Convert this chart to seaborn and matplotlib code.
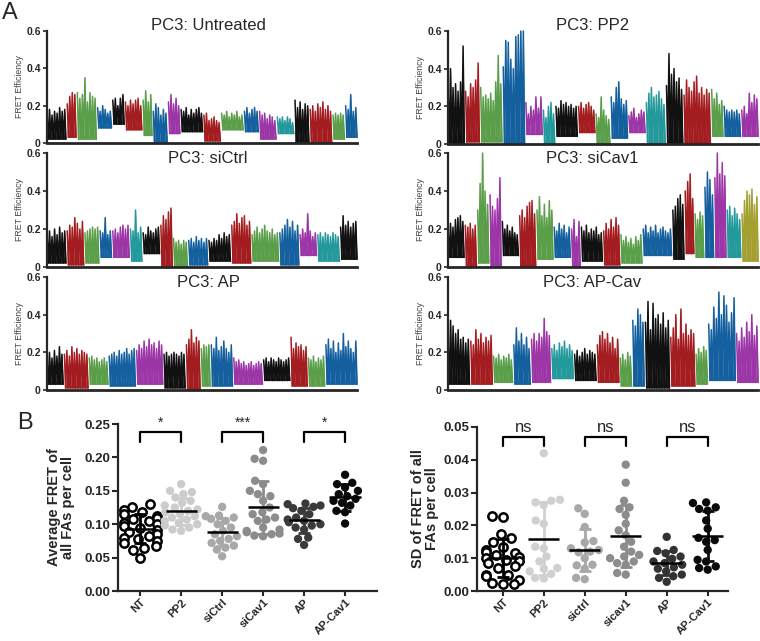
import numpy as np
import pandas as pd
import seaborn as sns
import matplotlib.pyplot as plt

# =====================================
# PANEL A DATA (per-cell FRET traces)
# colour key, per-cell baseline and peak values
# =====================================

untreated_colors = ['k', 'r', 'g', 'b', 'k', 'r', 'g', 'b', 'm', 'k', 'r', 'g', 'b', 'm', 'c', 'k', 'r', 'g', 'b']
untreated_lows = [.02, .03, .02, .08, .10, .07, .04, .0, .05, .06, .01, .07, .06, .02, .05, .0, .0, .02, .03]
untreated_tops = [
    [.16, .18, .15, .17, .16, .19, .17, .18],
    [.21, .25, .27, .26],
    [.27, .24, .26, .35, .22, .27, .25, .24],
    [.19, .17, .20, .18, .16, .17],
    [.23, .24, .20, .24, .26],
    [.22, .20, .23, .21, .23, .24, .20],
    [.23, .28, .22, .26],
    [.17, .21, .19, .15, .18, .16],
    [.22, .26, .21, .24, .20],
    [.18, .17, .19, .15, .18, .16, .18, .19, .16],
    [.15, .16, .12, .13, .14, .12, .11],
    [.16, .15, .17, .14, .16, .15, .17, .14, .15],
    [.17, .19, .16, .18, .19, .17],
    [.17, .15, .16, .13, .15, .14, .12],
    [.14, .13, .14, .12, .14, .13, .11],
    [.23, .19, .22, .18, .21, .20],
    [.18, .20, .17, .21, .19, .22, .18, .20, .17],
    [.15, .16, .15, .16, .15],
    [.20, .18, .26, .17, .19],
]

sictrl_colors = ['k', 'r', 'g', 'b', 'm', 'c', 'k', 'r', 'g', 'b', 'k', 'r', 'g', 'b', 'm', 'c', 'k']
sictrl_lows = [.02, .01, .02, .05, .05, .03, .07, .0, .0, .01, .03, .02, .03, .01, .06, .03, .04]
sictrl_tops = [
    [.18, .19, .16, .20, .17, .21, .18, .19],
    [.19, .22, .21, .26, .23, .20, .24],
    [.18, .19, .20, .21, .20, .21],
    [.19, .18, .26, .17, .19],
    [.19, .20, .18, .21, .22, .20, .22],
    [.20, .19, .30, .18, .21],
    [.18, .17, .21, .19, .18, .20, .21],
    [.22, .27, .25, .29, .31],
    [.15, .13, .14, .12, .14, .13],
    [.14, .15, .13, .16, .14, .15, .13, .15],
    [.14, .13, .15, .14, .17, .15, .18, .16, .17],
    [.22, .24, .28, .23, .26, .27, .22, .24],
    [.17, .19, .21, .18, .20, .22, .19, .18, .20, .17, .18],
    [.18, .20, .22, .25, .21, .24, .19, .22],
    [.17, .20, .18, .28, .19, .16, .18],
    [.17, .18, .16, .18, .17, .16, .18, .17, .16],
    [.21, .27, .22, .24, .21, .23, .24],
]

ap_colors = ['k', 'r', 'g', 'b', 'm', 'k', 'r', 'g', 'b', 'm', 'k', 'r', 'g', 'b']
ap_lows = [.03, .01, .03, .02, .03, .01, .0, .02, .02, .03, .05, .02, .02, .03]
ap_tops = [
    [.16, .20, .17, .21, .18, .23, .19],
    [.19, .21, .18, .23, .20, .22, .19, .21, .20, .19],
    [.17, .18, .16, .17, .15, .16, .17, .15],
    [.18, .19, .20, .18, .21, .19, .20, .22, .19, .21, .22],
    [.21, .24, .22, .26, .23, .27, .24, .25, .22, .26, .24],
    [.19, .20, .18, .19, .20, .19, .18, .20, .19],
    [.24, .27, .32, .25, .28, .26],
    [.22, .24, .23, .24],
    [.24, .22, .28, .21, .23, .26, .22, .20, .24],
    [.17, .15, .16, .14, .15, .13, .14, .15, .13, .14, .15, .14],
    [.16, .17, .15, .17, .16, .15, .17, .16, .15, .16, .17],
    [.28, .22, .25, .23, .24, .21, .23],
    [.17, .16, .18, .15, .17, .16, .18],
    [.24, .27, .22, .26, .20, .25, .21, .30, .23, .26, .22, .20, .26],
]

pp2_colors = ['k', 'r', 'g', 'b', 'm', 'c', 'k', 'r', 'g', 'b', 'm', 'c', 'k', 'r', 'g', 'b', 'm']
pp2_lows = [.0, .01, .01, .0, .05, .0, .04, .06, .0, .03, .06, .0, .0, .0, .04, .04, .04]
pp2_tops = [
    [.31, .40, .30, .32, .28, .33, .52],
    [.28, .25, .32, .30, .34, .43],
    [.30, .25, .26, .24, .27, .23, .33, .47, .32],
    [.41, .55, .54, .45, .40, .57, .58, .60, .60],
    [.22, .16, .20, .18, .25, .19, .25],
    [.18, .14, .20, .22, .16],
    [.20, .19, .23, .21, .22, .20, .21, .19, .20],
    [.20, .22, .19, .21, .22, .20, .18],
    [.16, .14, .25, .18, .15, .13],
    [.25, .22, .30, .33, .24, .21, .23],
    [.15, .17, .19, .14, .16, .18, .17],
    [.22, .27, .30, .25, .26, .28, .24, .21],
    [.31, .48, .37, .40, .33, .35, .29],
    [.26, .34, .30, .28, .33, .36, .27, .30, .26, .29, .27],
    [.29, .24, .27, .21, .23],
    [.20, .18, .17, .18, .17, .18, .16],
    [.18, .20, .16, .27, .22, .26, .24],
]

sicav1_colors = ['k', 'r', 'g', 'm', 'k', 'r', 'g', 'b', 'm', 'k', 'r', 'g', 'b', 'k', 'r', 'g', 'b', 'm', 'c', 'o']
sicav1_lows = [.05, .0, .02, .0, .06, .0, .04, .05, .0, .03, .01, .02, .06, .04, .07, .05, .05, .05, .05, .03]
sicav1_tops = [
    [.20, .23, .21, .25, .26, .27, .24],
    [.22, .21, .23, .20, .22],
    [.30, .44, .60, .40, .33],
    [.38, .32, .30, .36, .47],
    [.24, .20, .22, .19, .21, .18, .17],
    [.27, .30, .26, .32, .34, .35, .28],
    [.30, .37, .27, .33, .26, .35, .30],
    [.21, .19, .23, .20, .22, .18, .21],
    [.20, .25, .16, .24],
    [.21, .19, .22, .18, .20, .19, .21, .17, .18],
    [.19, .23, .20, .25, .21, .26, .22],
    [.17, .14, .16, .13, .15, .12, .16, .14, .17],
    [.20, .22, .18, .21, .19, .22, .18, .20, .21, .19, .18, .20],
    [.30, .32, .36, .38, .33],
    [.40, .45, .49, .36],
    [.28, .25, .29, .27],
    [.42, .50, .46, .38],
    [.47, .60, .49, .55, .48],
    [.30, .32, .27, .31, .28, .25],
    [.28, .35, .40, .38, .41, .33, .37],
]

apcav_colors = ['k', 'r', 'g', 'b', 'm', 'c', 'k', 'r', 'g', 'b', 'k', 'r', 'g', 'b', 'm']
apcav_lows = [.03, .03, .04, .03, .04, .06, .05, .04, .02, .02, .01, .02, .03, .05, .04]
apcav_tops = [
    [.27, .37, .34, .30, .32, .27, .28, .25, .27],
    [.26, .24, .32, .27, .30, .25, .28, .26, .29],
    [.18, .17, .19, .16, .18, .17, .19, .16],
    [.24, .33, .26, .30, .24, .28, .22],
    [.27, .30, .26, .30, .28, .38, .31, .29],
    [.22, .24, .21, .25, .23, .26, .22, .24, .21],
    [.19, .21, .18, .20, .22, .19, .21, .20, .19],
    [.24, .29, .31, .27, .30, .25, .28, .22, .27],
    [.17, .19, .16, .20, .18],
    [.37, .34, .43, .40, .36],
    [.36, .47, .32, .46, .38, .40, .35, .41, .33, .37],
    [.28, .33, .40, .27, .43, .30, .35, .29, .32, .30],
    [.19, .22, .20, .23, .21],
    [.35, .32, .44, .38, .52, .40, .50, .45, .36, .41, .49],
    [.30, .26, .33, .28, .36, .31, .40, .29, .34],
]

# =====================================
# PANEL B DATA (per-cell summaries)
# =====================================

avg_groups = ['NT', 'PP2', 'siCtrl', 'siCav1', 'AP', 'AP-Cav1']
avg_nt = [0.130, 0.126, 0.122, 0.118, 0.115, 0.112, 0.110, 0.108, 0.105, 0.102, 0.100, 0.098, 0.095,
          0.092, 0.088, 0.085, 0.082, 0.080, 0.078, 0.075, 0.072, 0.068, 0.065, 0.062, 0.050]
avg_pp2 = [0.160, 0.150, 0.148, 0.145, 0.140, 0.135, 0.132, 0.128, 0.125, 0.122, 0.120, 0.118,
           0.115, 0.112, 0.110, 0.107, 0.105, 0.102, 0.100, 0.098, 0.095, 0.092, 0.090]
avg_sictrl = [0.126, 0.113, 0.112, 0.110, 0.108, 0.105, 0.100, 0.095, 0.090, 0.085, 0.082, 0.078,
              0.075, 0.072, 0.068, 0.065, 0.062, 0.052]
avg_sicav1 = [0.211, 0.198, 0.195, 0.165, 0.160, 0.150, 0.145, 0.142, 0.135, 0.125, 0.118, 0.115,
              0.110, 0.107, 0.105, 0.095, 0.092, 0.090, 0.088, 0.086, 0.085, 0.083, 0.082]
avg_ap = [0.131, 0.130, 0.128, 0.126, 0.124, 0.120, 0.115, 0.110, 0.107, 0.105, 0.103, 0.100,
          0.098, 0.095, 0.092, 0.080, 0.078, 0.069]
avg_apcav1 = [0.174, 0.162, 0.160, 0.155, 0.150, 0.145, 0.142, 0.138, 0.135, 0.132, 0.128, 0.120,
              0.118, 0.101]

sd_groups = ['NT', 'PP2', 'sictrl', 'sicav1', 'AP', 'AP-Cav1']
sd_nt = [0.0230, 0.0225, 0.0175, 0.0160, 0.0150, 0.0135, 0.0125, 0.0120, 0.0115, 0.0110, 0.0105,
         0.0100, 0.0095, 0.0090, 0.0085, 0.0075, 0.0070, 0.0050, 0.0048, 0.0045, 0.0035, 0.0025,
         0.0022, 0.0020]
sd_pp2 = [0.0420, 0.0278, 0.0275, 0.0270, 0.0262, 0.0215, 0.0205, 0.0135, 0.0130, 0.0105, 0.0090,
          0.0070, 0.0068, 0.0060, 0.0052, 0.0040, 0.0038]
sd_sictrl = [0.0252, 0.0235, 0.0195, 0.0152, 0.0148, 0.0130, 0.0125, 0.0120, 0.0118, 0.0100,
             0.0080, 0.0078, 0.0068, 0.0040, 0.0036]
sd_sicav1 = [0.0385, 0.0330, 0.0275, 0.0255, 0.0250, 0.0232, 0.0205, 0.0185, 0.0170, 0.0150,
             0.0135, 0.0120, 0.0110, 0.0105, 0.0100, 0.0090, 0.0085, 0.0080, 0.0055, 0.0050]
sd_ap = [0.0165, 0.0125, 0.0122, 0.0115, 0.0105, 0.0098, 0.0090, 0.0085, 0.0080, 0.0072, 0.0068,
         0.0060, 0.0050, 0.0045, 0.0040, 0.0028]
sd_apcav1 = [0.0270, 0.0268, 0.0255, 0.0250, 0.0245, 0.0215, 0.0190, 0.0162, 0.0155, 0.0150,
             0.0125, 0.0095, 0.0090, 0.0075, 0.0070, 0.0065]

avg_sig = ['*', '***', '*']
sd_sig = ['ns', 'ns', 'ns']

# =====================================
# STYLE
# =====================================

sns.set_style("ticks")
plt.rcParams['font.family'] = ['Liberation Sans', 'DejaVu Sans']

trace_palette = {
    'k': '#111111', 'r': '#a31d20', 'g': '#5b9e49', 'b': '#14609f',
    'm': '#9c35a6', 'c': '#23999c', 'o': '#a39f30',
}
avg_palette = ['#000000', '#cccccc', '#a8a8a8', '#8c8c8c', '#3a3a3a', '#0a0a0a']
sd_palette = ['#000000', '#d0d0d0', '#a8a8a8', '#8c8c8c', '#333333', '#0a0a0a']

fig = plt.figure(figsize=(7.6, 6.41), dpi=100)


def draw_trace(rect, colors, lows, tops, title, title_x, title_y):
    ax = fig.add_axes(rect)
    start = 0
    for c, low, t in zip(colors, lows, tops):
        n = len(t)
        x = start + np.arange(2 * n) * 0.5
        y = np.empty(2 * n)
        y[0::2] = t
        y[1::2] = low
        col = trace_palette[c]
        ax.fill_between(x, low, y, color=col, lw=0, clip_on=False, zorder=1)
        ax.plot(x, y, color=col, lw=1.1, clip_on=False, zorder=2)
        start += n
    ax.set_xlim(0, start - 0.5)
    ax.set_ylim(0, 0.6)
    ax.set_xticks([])
    ax.set_yticks([0, 0.2, 0.4, 0.6])
    ax.set_yticklabels(['0', '0.2', '0.4', '0.6'], fontweight='bold')
    ax.tick_params(axis='y', labelsize=7.5, length=3, width=1.2, pad=1.5)
    ax.set_ylabel('FRET Efficiency', fontsize=6.3, color='#444444')
    ax.yaxis.set_label_coords(-0.075, 0.5)
    ax.text(title_x, title_y, title, transform=ax.transAxes, ha='center', va='center', fontsize=12)
    sns.despine(ax=ax)
    ax.spines['left'].set_linewidth(1.6)
    ax.spines['bottom'].set_linewidth(2.0)
    ax.spines['bottom'].set_zorder(3)
    return ax


draw_trace([0.0618, 0.7769, 0.408, 0.1747], untreated_colors, untreated_lows, untreated_tops,
           'PC3: Untreated', 0.52, 1.045)
draw_trace([0.0618, 0.5835, 0.408, 0.1778], sictrl_colors, sictrl_lows, sictrl_tops,
           'PC3: siCtrl', 0.52, 0.955)
draw_trace([0.0618, 0.3916, 0.408, 0.1763], ap_colors, ap_lows, ap_tops,
           'PC3: AP', 0.52, 0.955)
draw_trace([0.5895, 0.7754, 0.408, 0.1763], pp2_colors, pp2_lows, pp2_tops,
           'PC3: PP2', 0.465, 1.045)
draw_trace([0.5895, 0.5835, 0.408, 0.1778], sicav1_colors, sicav1_lows, sicav1_tops,
           'PC3: siCav1', 0.465, 0.955)
draw_trace([0.5895, 0.3916, 0.408, 0.1763], apcav_colors, apcav_lows, apcav_tops,
           'PC3: AP-Cav', 0.465, 0.955)


def draw_scatter(rect, groups, values, palette, ylim, ylabel, sig, bracket_y, arm, xlim, label_x,
                 sig_size):
    ax = fig.add_axes(rect)
    df = pd.DataFrame({
        'group': np.repeat(groups, [len(v) for v in values]),
        'value': np.concatenate(values),
    })
    sns.swarmplot(data=df, x='group', y='value', hue='group', order=groups, hue_order=groups,
                  palette=palette, size=6, legend=False, ax=ax, zorder=2)
    # NT drawn as open circles
    nt = ax.collections[0]
    nt.set_facecolor('white')
    nt.set_edgecolor('black')
    nt.set_linewidth(1.8)

    pos = np.arange(len(groups))
    means = np.array([np.mean(v) for v in values])
    sds = np.array([np.std(v, ddof=1) for v in values])
    for i in range(len(groups)):
        ax.errorbar(pos[i], means[i], yerr=sds[i], fmt='none', ecolor=palette[i],
                    elinewidth=2, capsize=4, capthick=2, zorder=3)
    ax.hlines(means, pos - 0.38, pos + 0.38, color='black', lw=1.8, zorder=4)

    for k, label in enumerate(sig):
        a, b = 2 * k, 2 * k + 1
        ax.plot([a, a, b, b], [bracket_y - arm, bracket_y, bracket_y, bracket_y - arm],
                color='black', lw=1.6, clip_on=False)
        ax.text((a + b) / 2, bracket_y + arm * 0.25, label, ha='center', va='bottom',
                fontsize=sig_size)

    ax.set_xlim(*xlim)
    ax.set_ylim(*ylim)
    ax.set_yticks(np.linspace(ylim[0], ylim[1], 6))
    ax.yaxis.set_major_formatter(plt.FormatStrFormatter('%.2f'))
    ax.set_xlabel('')
    ax.set_ylabel(ylabel, fontsize=10.5, fontweight='bold', linespacing=1.0)
    ax.yaxis.set_label_coords(label_x, 0.5)
    ax.tick_params(axis='y', labelsize=9.5, length=4, width=1.5, pad=1.5)
    ax.tick_params(axis='x', labelsize=8.0, length=3.5, width=1.5, pad=1.0)
    for lab in ax.get_xticklabels() + ax.get_yticklabels():
        lab.set_fontweight('bold')
    plt.setp(ax.get_xticklabels(), rotation=45, ha='right', rotation_mode='anchor')
    sns.despine(ax=ax)
    ax.spines['left'].set_linewidth(1.6)
    ax.spines['bottom'].set_linewidth(1.6)
    return ax


draw_scatter([0.1553, 0.078, 0.3408, 0.2605], avg_groups,
             [avg_nt, avg_pp2, avg_sictrl, avg_sicav1, avg_ap, avg_apcav1], avg_palette,
             (0, 0.25), 'Average FRET of\nall FAs per cell', avg_sig, 0.238, 0.015,
             (-0.54, 5.78), -0.166, 10)
draw_scatter([0.6276, 0.078, 0.330, 0.256], sd_groups,
             [sd_nt, sd_pp2, sd_sictrl, sd_sicav1, sd_ap, sd_apcav1], sd_palette,
             (0, 0.05), 'SD of FRET of all\nFAs per cell', sd_sig, 0.047, 0.0027,
             (-0.63, 5.49), -0.151, 12)

fig.text(0.003, 0.997, 'A', ha='left', va='top', fontsize=17)
fig.text(0.022, 0.358, 'B', ha='left', va='top', fontsize=17)

fig.savefig('out.png', dpi=100)
